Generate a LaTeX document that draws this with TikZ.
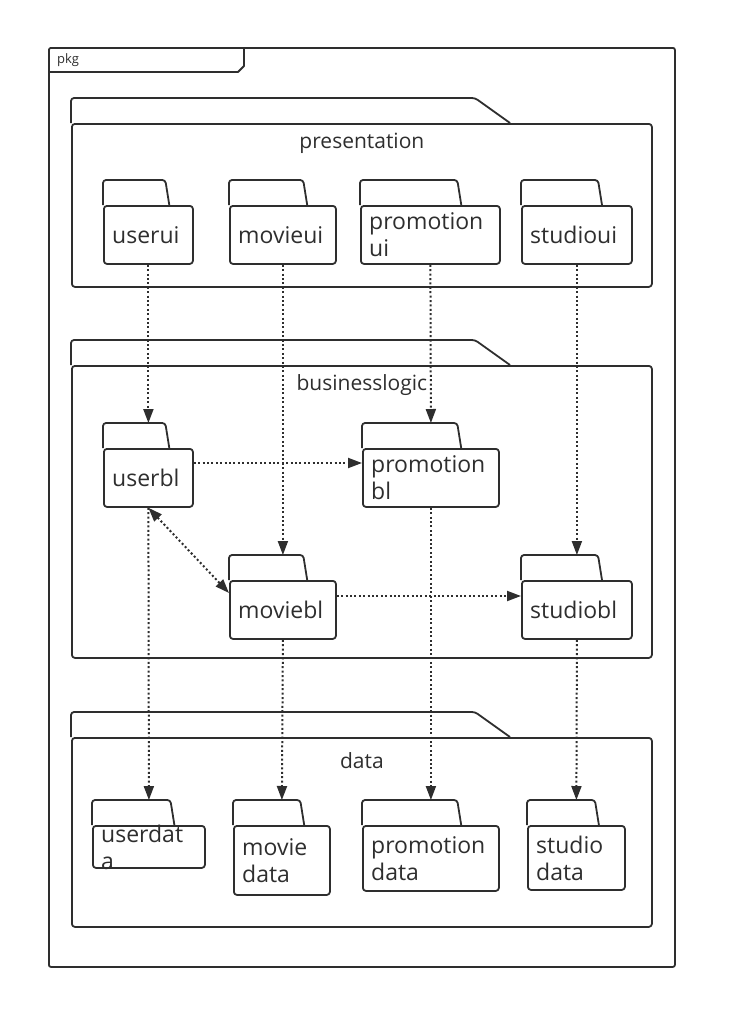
\documentclass[tikz,border=0pt]{standalone}
\usepackage{fontspec}
\setmainfont{Open Sans}
\usetikzlibrary{calc,arrows.meta}
\definecolor{umlgray}{HTML}{2E2E2E}
\tikzset{
  umlline/.style={draw=umlgray, line width=1.8pt, line join=round},
  folderbody/.style={umlline, rounded corners=3pt, inner sep=0pt},
  foldertext/.style={align=left, inner sep=0pt, text=umlgray, font=\fontsize{23}{27}\selectfont},
  pkglabel/.style={inner sep=0pt, anchor=base, text=umlgray, font=\fontsize{21}{25}\selectfont},
  dep/.style={umlline, line width=2pt, dash pattern=on 2pt off 2.4pt, -{Triangle[length=14pt,width=10pt]}},
  depboth/.style={dep, {Triangle[length=14pt,width=10pt]}-{Triangle[length=14pt,width=10pt]}}
}
\newcommand{\umlfolder}[6]
{   \node[folderbody, minimum width=#4, minimum height=#5, anchor=north west] (#1) at (#2,#3) {};
    \draw[umlline, rounded corners=3pt] (#1.north west) -- ($(#1.north west)+(0,-25)$)
       -- ($(#1.north west)+({0.7*#4},-25)$) -- ($(#1.north west)+({0.7*#4+4},0)$);
    \coordinate (#1-top) at ($(#1.north)+(0,-25)$);
    \node[foldertext, anchor=west] (#1-text) at ([xshift=9pt]#1.west) {#6};
}
\newcommand{\umlpackage}[5][25]
{   \node[folderbody, minimum width=580, minimum height=#4, anchor=north west] (#2) at (71,#3) {};
    \draw[umlline, rounded corners=3pt] (#2.north west) -- ++(0,-25) -- ++(404,0)
       -- ($(#2.north west)+(439,0)$);
    \node[pkglabel] (#2-label) at ($(#2.north)+(0,#1)$) {#5};
}

\begin{document}
\begin{tikzpicture}[x=1pt, y=-1pt]
 \useasboundingbox (0,0) rectangle (736,1028);

 \node[folderbody, rounded corners=2pt, minimum width=626, minimum height=919, anchor=north west] (pkg) at (48,47) {};
   \draw[umlline] ($(pkg.north west)+(0,25)$) -- ++(190,0) -- ++(6,-6) -- ($(pkg.north west)+(196,0)$);
   \node[inner sep=0pt, anchor=west, text=umlgray, font=\fontsize{13}{15}\selectfont] (pkg-label) at ($(pkg.north west)+(9,13)$) {pkg};

 \umlpackage{presentation}{123}{163}{presentation}
 \umlpackage{businesslogic}{365}{292}{businesslogic}
 \umlpackage[31]{data}{737}{189}{data}

 \umlfolder{userui}{103}{205}{89}{58}{userui}
 \umlfolder{movieui}{229}{205}{106}{58}{movieui}
 \umlfolder{promotionui}{360}{205}{139}{58}{promotion\\ui}
 \umlfolder{studioui}{521}{205}{110}{58}{studioui}

 \umlfolder{userbl}{103}{448}{89}{58}{userbl}
 \umlfolder{promotionbl}{362}{448}{136}{58}{promotion\\bl}
 \umlfolder{moviebl}{229}{580}{106}{58}{moviebl}
 \umlfolder{studiobl}{521}{580}{110}{58}{studiobl}

 \umlfolder{userdata}{92}{825}{112}{42}{userdat\\a}
 \umlfolder{moviedata}{233}{825}{96}{69}{movie\\data}
 \umlfolder{promotiondata}{362}{825}{136}{65}{promotion\\data}
 \umlfolder{studiodata}{527}{825}{97}{64}{studio\\data}

   \draw[dep] (userui.south) -- (userbl-top);
   \draw[dep] (movieui.south) -- (moviebl-top);
   \draw[dep] (promotionui.south) -- (promotionbl-top);
   \draw[dep] (studioui.south) -- (studiobl-top);
   \draw[dep] ([yshift=-15pt]userbl.north east) -- ([yshift=-15pt]promotionbl.north west);
   \draw[depboth] (userbl.south) -- ([yshift=-13pt]moviebl.north west);
   \draw[dep] ([yshift=-16pt]moviebl.north east) -- ([yshift=-16pt]studiobl.north west);
   \draw[dep] (userbl.south) -- (userdata-top);
   \draw[dep] (moviebl.south) -- (moviedata-top);
   \draw[dep] (promotionbl.south) -- (promotiondata-top);
   \draw[dep] (studiobl.south) -- (studiodata-top);

\end{tikzpicture}
\end{document}
